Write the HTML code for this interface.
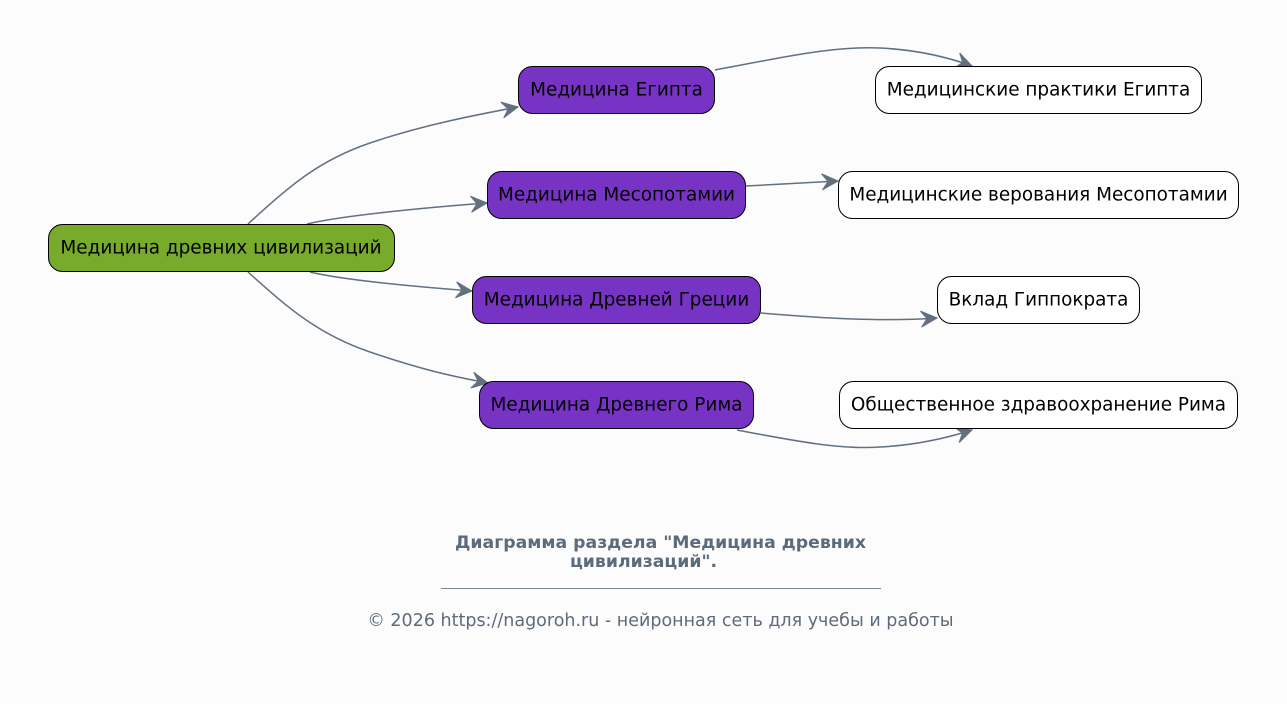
<!DOCTYPE html>
<html>
<head>
<meta charset="utf-8">
<style>
  html,body{margin:0;padding:0;background:#fcfcfc;}
  body{width:1287px;height:704px;position:relative;overflow:hidden;font-family:"DejaVu Sans","Liberation Sans",sans-serif;}
  svg{position:absolute;left:0;top:0;}
  .t{font-family:"DejaVu Sans","Liberation Sans",sans-serif;font-size:18.4px;fill:#000;}
  .e{fill:none;stroke:#627080;stroke-width:1.5;}
  .title{position:absolute;left:0;width:1287px;font-weight:bold;font-size:17.3px;color:#5c6b7b;text-align:center;line-height:19px;white-space:nowrap;}
  .copy{position:absolute;left:17px;top:611px;width:1287px;text-align:center;font-size:17.5px;color:#5f6b7a;white-space:nowrap;}
  .line{position:absolute;left:441px;top:588px;width:440px;height:1px;background:#7a8591;}
</style>
</head>
<body>
<svg width="1287" height="704" viewBox="0 0 1287 704">
  <defs>
    <marker id="a" viewBox="-18 -9 19 18" refX="0" refY="0" markerWidth="19" markerHeight="18" markerUnits="userSpaceOnUse" orient="auto">
      <path d="M0,0 L-16,-8 L-10,0 L-16,8 Z" fill="#627080" stroke="#627080" stroke-width="1" stroke-linejoin="miter"/>
    </marker>
  </defs>
  <!-- edges -->
  <path class="e" marker-end="url(#a)" d="M248,224 C290,185 320,160 370,143 S470,116 518,107"/>
  <path class="e" marker-end="url(#a)" d="M307,224 C340,216 420,208 487,203"/>
  <path class="e" marker-end="url(#a)" d="M310,272 C343,280 420,287 472,291"/>
  <path class="e" marker-end="url(#a)" d="M248,272 C290,310 320,335 370,352 S450,376 488,383"/>
  <path class="e" marker-end="url(#a)" d="M715,70 C780,58 830,46 880,48 C920,50 950,58 972,66"/>
  <path class="e" marker-end="url(#a)" d="M746,186 L838,181"/>
  <path class="e" marker-end="url(#a)" d="M761,313 C820,318 880,322 937,318"/>
  <path class="e" marker-end="url(#a)" d="M737,430 C790,440 840,450 880,447 C920,445 950,437 972,430"/>

  <!-- root -->
  <rect x="48.5" y="224.5" width="346" height="47" rx="14" fill="#78aa2b" stroke="#000" stroke-width="1"/>
  <text class="t" x="221" y="248" text-anchor="middle" dominant-baseline="central">Медицина древних цивилизаций</text>

  <!-- level 1 -->
  <rect x="518.5" y="66.5" width="196" height="47" rx="14" fill="#7734c4" stroke="#000" stroke-width="1"/>
  <text class="t" x="616.5" y="90" text-anchor="middle" dominant-baseline="central">Медицина Египта</text>

  <rect x="487.5" y="171.5" width="258" height="47" rx="14" fill="#7734c4" stroke="#000" stroke-width="1"/>
  <text class="t" x="616.5" y="195" text-anchor="middle" dominant-baseline="central">Медицина Месопотамии</text>

  <rect x="472.5" y="276.5" width="288" height="47" rx="14" fill="#7734c4" stroke="#000" stroke-width="1"/>
  <text class="t" x="616.5" y="300" text-anchor="middle" dominant-baseline="central">Медицина Древней Греции</text>

  <rect x="479.5" y="381.5" width="274" height="47" rx="14" fill="#7734c4" stroke="#000" stroke-width="1"/>
  <text class="t" x="616.5" y="405" text-anchor="middle" dominant-baseline="central">Медицина Древнего Рима</text>

  <!-- level 2 -->
  <rect x="875.5" y="66.5" width="326" height="47" rx="14" fill="#fff" stroke="#000" stroke-width="1"/>
  <text class="t" x="1038.5" y="90" text-anchor="middle" dominant-baseline="central">Медицинские практики Египта</text>

  <rect x="838.5" y="171.5" width="400" height="47" rx="14" fill="#fff" stroke="#000" stroke-width="1"/>
  <text class="t" x="1038.5" y="195" text-anchor="middle" dominant-baseline="central">Медицинские верования Месопотамии</text>

  <rect x="937.5" y="276.5" width="202" height="47" rx="14" fill="#fff" stroke="#000" stroke-width="1"/>
  <text class="t" x="1038.5" y="300" text-anchor="middle" dominant-baseline="central">Вклад Гиппократа</text>

  <rect x="839.5" y="381.5" width="398" height="47" rx="14" fill="#fff" stroke="#000" stroke-width="1"/>
  <text class="t" x="1038.5" y="405" text-anchor="middle" dominant-baseline="central">Общественное здравоохранение Рима</text>
</svg>

<div class="title" style="top:534px;left:17px;">Диаграмма раздела "Медицина древних</div>
<div class="title" style="top:553px;left:0px;">цивилизаций".</div>
<div class="line"></div>
<div class="copy">© 2026 https://nagoroh.ru - нейронная сеть для учебы и работы</div>
</body>
</html>
